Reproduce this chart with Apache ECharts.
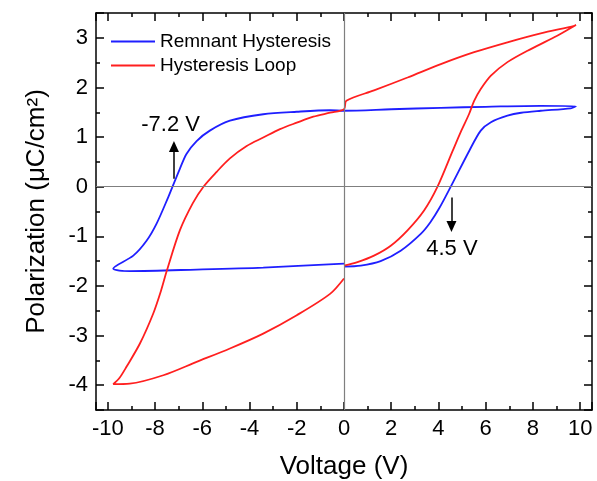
<!DOCTYPE html>
<html>
<head>
<meta charset="utf-8">
<script src="https://cdn.jsdelivr.net/npm/echarts@6.0.0/dist/echarts.min.js"></script>
<style>
  html, body { margin: 0; padding: 0; background: #fff; }
  #chart { width: 597px; height: 481px; }
</style>
</head>
<body>
<div id="chart"></div>
<script>
// Remnant hysteresis (blue) - voltage / polarization, traced in drawing order
const blueV = [0, 0.71, 1.55, 2.4, 3.25, 3.65, 4.05, 4.52, 5.3, 5.79, 6.22, 6.92, 7.5, 8.33, 9.6, 9.82,
  8.33, 6.0, 4.1, 2.0, 0,
  -0.59, -2.0, -3.42, -4.83, -5.68, -6.24, -6.67, -6.95, -7.26, -7.44, -7.94, -8.36, -8.92, -9.77,
  -9.07, -6.24, -3.42, 0]
const blueP = [-1.61, -1.59, -1.5, -1.29, -0.95, -0.72, -0.42, 0, 0.72, 1.13, 1.3, 1.43, 1.49, 1.53, 1.58, 1.62,
  1.63, 1.61, 1.59, 1.56, 1.53,
  1.54, 1.51, 1.46, 1.33, 1.13, 0.92, 0.66, 0.36, 0, -0.21, -0.75, -1.09, -1.39, -1.65,
  -1.70, -1.67, -1.63, -1.55]

// Hysteresis loop (red)
const redV = [0, -0.59, -2.0, -3.42, -4.83, -6.24, -7.65, -9.07, -9.77,
  -9.5, -9.21, -8.64, -8.08, -7.75, -7.5, -6.95, -6.4, -5.95, -5.39, -4.83, -4.12, -3.42, -2.71, -2.0, -1.3, -0.59, 0,
  0.1, 1.27, 2.69, 4.1, 5.51, 6.92, 8.33, 9.75, 9.82,
  8.9, 7.77, 6.92, 6.22, 5.79, 5.51, 5.3, 4.94, 4.6, 3.96, 3.39, 2.69, 1.98, 1.27, 0.57, 0]
const redP = [-1.85, -2.16, -2.59, -2.96, -3.26, -3.53, -3.80, -3.97, -3.98,
  -3.85, -3.63, -3.16, -2.56, -2.1, -1.69, -0.88, -0.33, 0, 0.3, 0.57, 0.82, 0.99, 1.16, 1.29, 1.41, 1.49, 1.56,
  1.73, 1.94, 2.2, 2.47, 2.71, 2.91, 3.09, 3.24, 3.26,
  3.01, 2.74, 2.51, 2.24, 1.97, 1.73, 1.47, 1.1, 0.72, 0, -0.48, -0.88, -1.19, -1.39, -1.52, -1.59]

const seriesNames = ['Remnant Hysteresis', 'Hysteresis Loop']

// coercive voltage annotations: value, arrow start/end polarization, label position
const coercive = [
  { text: '-7.2 V', v: -7.2, from: 0.16, to: 0.81, labelV: -7.34, labelP: 1.25 },
  { text: '4.5 V', v: 4.55, from: -0.22, to: -0.8, labelV: 4.57, labelP: -1.25 }
]

const FONT = 'Liberation Sans, Arial, sans-serif'
const black = '#000'

const zip = (xs, ys) => xs.map((x, i) => [x, ys[i]])

function axisBase(pos, min, max, split, labels) {
  return {
    type: 'value',
    position: pos,
    min: min,
    max: max,
    splitNumber: split,
    axisLine: { onZero: false, lineStyle: { color: black, width: 1.5 } },
    axisTick: { inside: true, length: 8, lineStyle: { color: black, width: 1.5 } },
    minorTick: { show: true, splitNumber: 2, length: 4, lineStyle: { color: black, width: 1.5 } },
    splitLine: { show: false },
    axisLabel: {
      show: labels,
      showMinLabel: false,
      showMaxLabel: false,
      margin: 8,
      fontSize: 22,
      color: black,
      fontFamily: FONT
    }
  }
}

const chart = echarts.init(document.getElementById('chart'))

const xBottom = Object.assign(axisBase('bottom', -10.5, 10.5, 10, true), {
  name: 'Voltage (V)',
  nameLocation: 'middle',
  nameGap: 44,
  nameTextStyle: { fontSize: 26, color: black, fontFamily: FONT }
})
const xTop = axisBase('top', -10.5, 10.5, 10, false)
const yLeft = Object.assign(axisBase('left', -4.5, 3.5, 8, true), {
  name: 'Polarization (\u03bcC/cm\u00b2)',
  nameLocation: 'middle',
  nameGap: 46,
  nameTextStyle: { fontSize: 26, color: black, fontFamily: FONT }
})
const yRight = axisBase('right', -4.5, 3.5, 8, false)

chart.setOption({
  animation: false,
  backgroundColor: '#fff',
  grid: { left: 96, right: 5, top: 13, bottom: 71, containLabel: false, outerBoundsMode: 'none' },
  legend: {
    data: seriesNames,
    orient: 'vertical',
    left: 106,
    top: 27,
    icon: 'rect',
    itemWidth: 44,
    itemHeight: 2,
    itemGap: 5,
    textStyle: { fontSize: 19, color: black, fontFamily: FONT }
  },
  xAxis: [xBottom, xTop],
  yAxis: [yLeft, yRight],
  series: [
    {
      name: 'refs',
      type: 'line',
      data: [],
      z: 1,
      silent: true,
      markLine: {
        silent: true,
        symbol: 'none',
        label: { show: false },
        lineStyle: { color: '#7f7f7f', width: 1.2, type: 'solid' },
        data: [
          { xAxis: 0 },
          { yAxis: 0 }
        ].concat(coercive.map(c => [
          { coord: [c.v, c.from], symbol: 'none' },
          { coord: [c.v, c.to], symbol: 'triangle', symbolSize: [10, 11], lineStyle: { color: black, width: 1.5 } }
        ]))
      },
      markPoint: {
        silent: true,
        symbolSize: 0,
        label: { show: true, position: 'inside', fontSize: 22, color: black, fontFamily: FONT },
        data: coercive.map(c => ({ coord: [c.labelV, c.labelP], value: c.text, label: { formatter: c.text } }))
      }
    },
    {
      name: seriesNames[0],
      type: 'line',
      data: zip(blueV, blueP),
      showSymbol: false,
      smooth: 0.3,
      z: 3,
      color: '#1f1fff',
      lineStyle: { width: 1.8, color: '#1f1fff' }
    },
    {
      name: seriesNames[1],
      type: 'line',
      data: zip(redV, redP),
      showSymbol: false,
      smooth: 0.3,
      z: 3,
      color: '#ff1f1f',
      lineStyle: { width: 1.8, color: '#ff1f1f' }
    }
  ]
})
</script>
</body>
</html>
